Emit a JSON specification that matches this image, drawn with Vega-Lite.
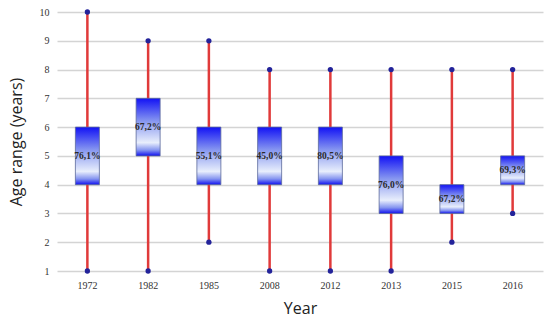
{
  "$schema": "https://vega.github.io/schema/vega-lite/v6.json",
  "autosize": {"type": "none"},
  "width": 486,
  "height": 259,
  "padding": {"left": 57, "top": 12, "right": 7, "bottom": 51},
  "background": "white",
  "config": {
    "view": {"stroke": null},
    "axisY": {
      "values": [1, 2, 3, 4, 5, 6, 7, 8, 9, 10],
      "labelOverlap": false, "labelFlush": false,
      "domain": false, "ticks": false, "grid": true, "gridColor": "#d4d4d4",
      "gridWidth": 1.5, "labelFont": "Liberation Serif", "labelFontSize": 10,
      "labelColor": "#333", "labelPadding": 8, "titleFont": "Open Sans",
      "titleFontSize": 16, "titleFontWeight": "normal", "titleColor": "#222",
      "titlePadding": 15
    }
  },
  "data": {"values": [
    {"year": "1972", "min": 1, "q1": 4, "q3": 6, "max": 10, "label": "76,1%"},
    {"year": "1982", "min": 1, "q1": 5, "q3": 7, "max": 9, "label": "67,2%"},
    {"year": "1985", "min": 2, "q1": 4, "q3": 6, "max": 9, "label": "55,1%"},
    {"year": "2008", "min": 1, "q1": 4, "q3": 6, "max": 8, "label": "45,0%"},
    {"year": "2012", "min": 1, "q1": 4, "q3": 6, "max": 8, "label": "80,5%"},
    {"year": "2013", "min": 1, "q1": 3, "q3": 5, "max": 8, "label": "76,0%"},
    {"year": "2015", "min": 2, "q1": 3, "q3": 4, "max": 8, "label": "67,2%"},
    {"year": "2016", "min": 3, "q1": 4, "q3": 5, "max": 8, "label": "69,3%"}
  ]},
  "encoding": {
    "x": {
      "field": "year", "type": "nominal", "sort": null,
      "scale": {"paddingInner": 0, "paddingOuter": 0},
      "axis": {
        "title": "Year", "labelAngle": 0, "domain": false, "ticks": false,
        "labelFont": "Liberation Serif", "labelFontSize": 10, "labelColor": "#333",
        "labelPadding": 9, "titleFont": "Open Sans", "titleFontSize": 16,
        "titleFontWeight": "normal", "titleColor": "#222", "titlePadding": 10
      }
    }
  },
  "layer": [
    {
      "mark": {"type": "rule", "color": "#e03a3a", "strokeWidth": 2.5},
      "encoding": {
        "y": {
          "field": "min", "type": "quantitative",
          "scale": {"domain": [1, 10], "nice": false, "zero": false},
          "axis": {"title": "Age range (years)", "values": [1, 2, 3, 4, 5, 6, 7, 8, 9, 10]}
        },
        "y2": {"field": "max"}
      }
    },
    {
      "mark": {
        "type": "bar", "width": 24, "stroke": "#5a6a9a", "strokeWidth": 0.8,
        "fill": {
          "gradient": "linear", "x1": 0, "y1": 0, "x2": 0, "y2": 1,
          "stops": [
            {"offset": 0, "color": "#1212f5"},
            {"offset": 0.4, "color": "#8898f0"},
            {"offset": 0.77, "color": "#e8eefc"},
            {"offset": 0.9, "color": "#8494f0"},
            {"offset": 1, "color": "#1010f0"}
          ]
        }
      },
      "encoding": {
        "y": {"field": "q1", "type": "quantitative", "axis": {"title": "Age range (years)", "values": [1, 2, 3, 4, 5, 6, 7, 8, 9, 10]}},
        "y2": {"field": "q3"}
      }
    },
    {
      "mark": {"type": "point", "filled": true, "color": "#23239a", "size": 28, "opacity": 1},
      "encoding": {"y": {"field": "min", "type": "quantitative", "axis": {"title": "Age range (years)", "values": [1, 2, 3, 4, 5, 6, 7, 8, 9, 10]}}}
    },
    {
      "mark": {"type": "point", "filled": true, "color": "#23239a", "size": 28, "opacity": 1},
      "encoding": {"y": {"field": "max", "type": "quantitative", "axis": {"title": "Age range (years)", "values": [1, 2, 3, 4, 5, 6, 7, 8, 9, 10]}}}
    },
    {
      "transform": [
        {"fold": ["q1", "q3"], "as": ["k", "v"]},
        {"aggregate": [{"op": "mean", "field": "v", "as": "mid"}], "groupby": ["year", "label"]}
      ],
      "mark": {"type": "text", "font": "Liberation Serif", "fontWeight": "bold", "fontSize": 9.5, "color": "#2a2a2a"},
      "encoding": {
        "y": {"field": "mid", "type": "quantitative", "axis": {"title": "Age range (years)", "values": [1, 2, 3, 4, 5, 6, 7, 8, 9, 10]}},
        "text": {"field": "label"}
      }
    }
  ]
}
